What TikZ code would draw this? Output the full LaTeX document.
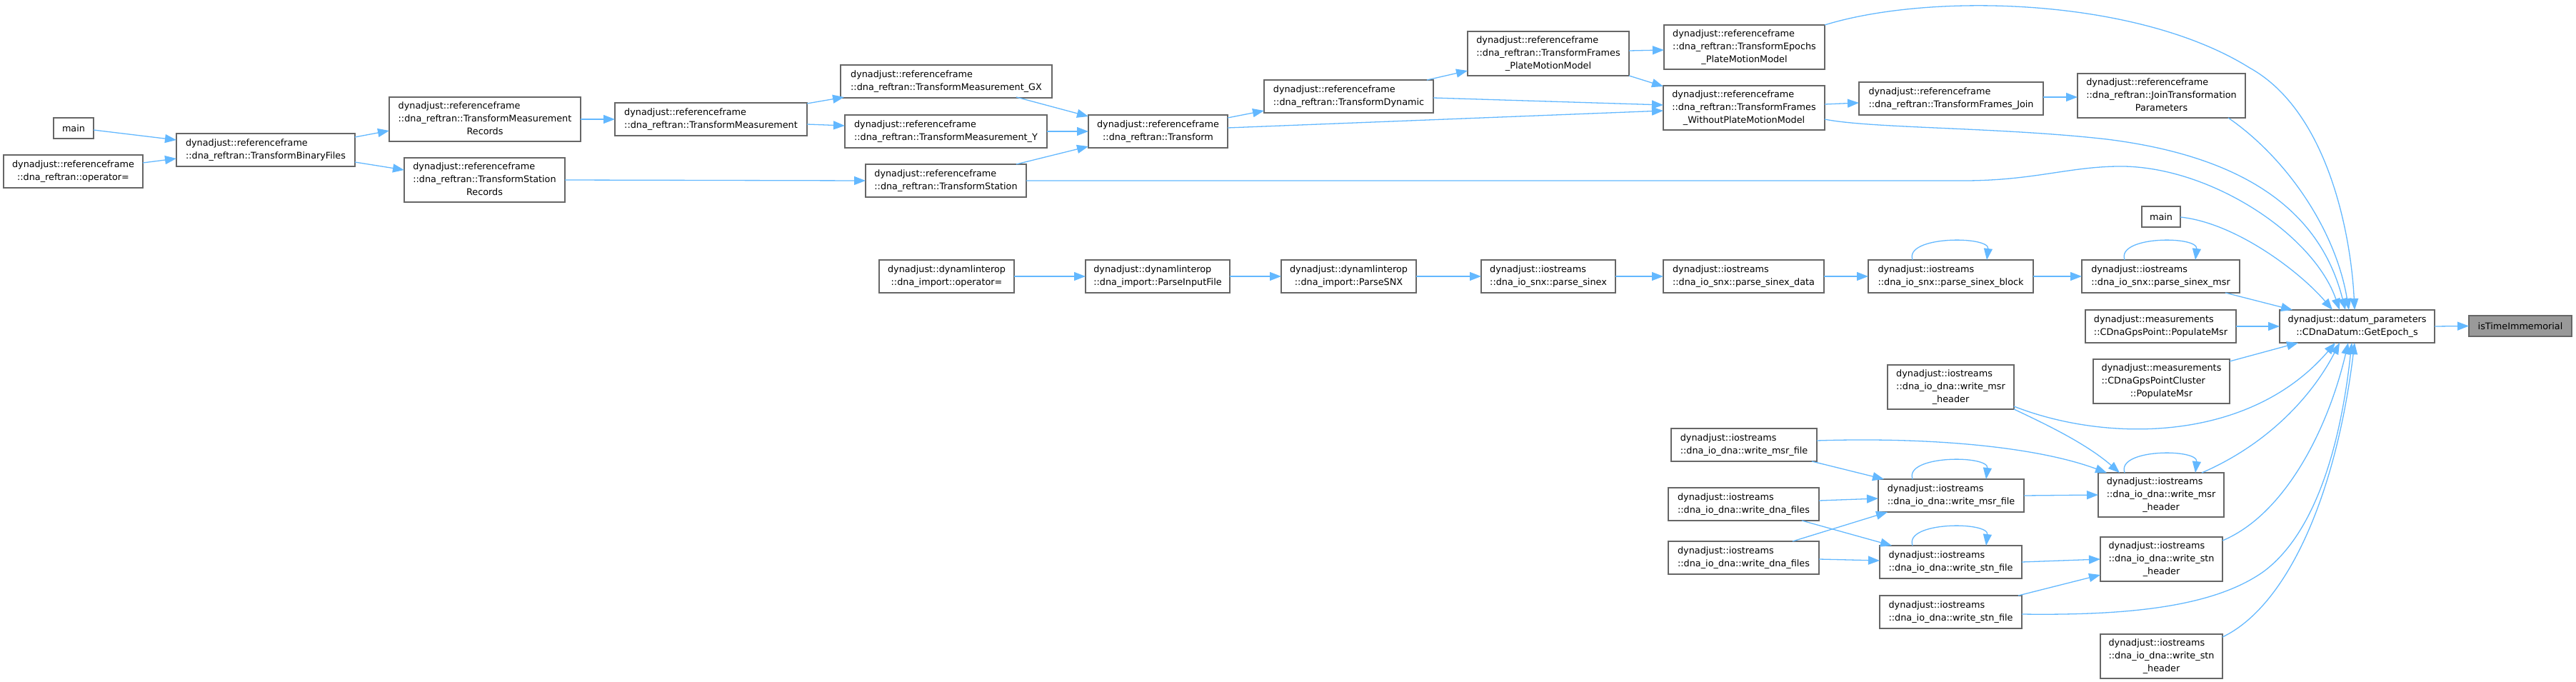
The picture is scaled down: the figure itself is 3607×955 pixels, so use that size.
\documentclass[tikz,border=0pt]{standalone}
\usepackage{fontspec}
\setmainfont{DejaVu Sans}
\usetikzlibrary{arrows.meta,calc}
\definecolor{edgeblue}{HTML}{63B8FF}
\definecolor{boxgray}{HTML}{666666}
\definecolor{rootfill}{HTML}{999999}
\newcommand{\LabTwo}[2]{\begin{tabular}{@{}l@{}}#1\\\multicolumn{1}{@{}c@{}}{#2}\end{tabular}}
\newcommand{\LabThree}[3]{\begin{tabular}{@{}l@{}}#1\\#2\\\multicolumn{1}{@{}c@{}}{#3}\end{tabular}}
\begin{document}
\begin{tikzpicture}[x=1pt,y=-1pt,
  box/.style={draw=boxgray, line width=1.6pt, fill=white, inner sep=0pt, outer sep=0pt,
    anchor=north west, align=center, font=\fontsize{12.8}{17.7}\selectfont},
  rootbox/.style={box, fill=rootfill},
  wh/.style 2 args={minimum width=#1pt, minimum height=#2pt},
  edge/.style={draw=edgeblue, line width=1.3pt, -{Triangle[length=16pt,width=12pt]}}]
\useasboundingbox (0,0) rectangle (3607,955);

% nodes
\node[box, wh={56}{29}] (main1) at (75,165) {main};
\node[box, wh={195}{46}] (opref) at (5,217) {\LabTwo{dynadjust::referenceframe}{::dna\_reftran::operator=}};
\node[box, wh={250}{46}] (TBF) at (247,187) {\LabTwo{dynadjust::referenceframe}{::dna\_reftran::TransformBinaryFiles}};
\node[box, wh={268}{62}] (TMR) at (545,136) {\LabThree{dynadjust::referenceframe}{::dna\_reftran::TransformMeasurement}{Records}};
\node[box, wh={225}{62}] (TSR) at (566,221) {\LabThree{dynadjust::referenceframe}{::dna\_reftran::TransformStation}{Records}};
\node[box, wh={269}{46}] (TM) at (861,144) {\LabTwo{dynadjust::referenceframe}{::dna\_reftran::TransformMeasurement}};
\node[box, wh={296}{46}] (TMGX) at (1177,91) {\LabTwo{dynadjust::referenceframe}{::dna\_reftran::TransformMeasurement\_GX}};
\node[box, wh={283}{46}] (TMY) at (1183,161) {\LabTwo{dynadjust::referenceframe}{::dna\_reftran::TransformMeasurement\_Y}};
\node[box, wh={225}{46}] (TS) at (1212,230) {\LabTwo{dynadjust::referenceframe}{::dna\_reftran::TransformStation}};
\node[box, wh={195}{46}] (Tr) at (1524,161) {\LabTwo{dynadjust::referenceframe}{::dna\_reftran::Transform}};
\node[box, wh={237}{46}] (TD) at (1770,112) {\LabTwo{dynadjust::referenceframe}{::dna\_reftran::TransformDynamic}};
\node[box, wh={226}{62}] (TFPMM) at (2055,44) {\LabThree{dynadjust::referenceframe}{::dna\_reftran::TransformFrames}{\_PlateMotionModel}};
\node[box, wh={225}{62}] (TEPMM) at (2330,35) {\LabThree{dynadjust::referenceframe}{::dna\_reftran::TransformEpochs}{\_PlateMotionModel}};
\node[box, wh={226}{62}] (TFWPMM) at (2329,120) {\LabThree{dynadjust::referenceframe}{::dna\_reftran::TransformFrames}{\_WithoutPlateMotionModel}};
\node[box, wh={258}{46}] (TFJ) at (2603,115) {\LabTwo{dynadjust::referenceframe}{::dna\_reftran::TransformFrames\_Join}};
\node[box, wh={235}{62}] (JTP) at (2909,103) {\LabThree{dynadjust::referenceframe}{::dna\_reftran::JoinTransformation}{Parameters}};
\node[box, wh={54}{29}] (main2) at (2999,289) {main};
\node[box, wh={189}{46}] (dopr) at (1231,364) {\LabTwo{dynadjust::dynamlinterop}{::dna\_import::operator=}};
\node[box, wh={202}{46}] (PIF) at (1520,364) {\LabTwo{dynadjust::dynamlinterop}{::dna\_import::ParseInputFile}};
\node[box, wh={189}{46}] (PSNX) at (1794,364) {\LabTwo{dynadjust::dynamlinterop}{::dna\_import::ParseSNX}};
\node[box, wh={188}{46}] (psinex) at (2074,364) {\LabTwo{dynadjust::iostreams}{::dna\_io\_snx::parse\_sinex}};
\node[box, wh={225}{46}] (psdata) at (2329,364) {\LabTwo{dynadjust::iostreams}{::dna\_io\_snx::parse\_sinex\_data}};
\node[box, wh={231}{46}] (psblock) at (2616,364) {\LabTwo{dynadjust::iostreams}{::dna\_io\_snx::parse\_sinex\_block}};
\node[box, wh={221}{46}] (psmsr) at (2915,364) {\LabTwo{dynadjust::iostreams}{::dna\_io\_snx::parse\_sinex\_msr}};
\node[box, wh={211}{46}] (GPM) at (2920,434) {\LabTwo{dynadjust::measurements}{::CDnaGpsPoint::PopulateMsr}};
\node[box, wh={217}{46}] (GE) at (3192,434) {\LabTwo{dynadjust::datum\_parameters}{::CDnaDatum::GetEpoch\_s}};
\node[rootbox, wh={144}{29}] (isTI) at (3457,442) {isTimeImmemorial};
\node[box, wh={191}{62}] (GPCM) at (2931,503) {\LabThree{dynadjust::measurements}{::CDnaGpsPointCluster}{::PopulateMsr}};
\node[box, wh={177}{62}] (wmh1) at (2643,511) {\LabThree{dynadjust::iostreams}{::dna\_io\_dna::write\_msr}{\_header}};
\node[box, wh={204}{46}] (wmfL) at (2340,600) {\LabTwo{dynadjust::iostreams}{::dna\_io\_dna::write\_msr\_file}};
\node[box, wh={204}{46}] (wmf) at (2630,671) {\LabTwo{dynadjust::iostreams}{::dna\_io\_dna::write\_msr\_file}};
\node[box, wh={176}{62}] (wmh2) at (2938,662) {\LabThree{dynadjust::iostreams}{::dna\_io\_dna::write\_msr}{\_header}};
\node[box, wh={211}{46}] (wdf1) at (2336,683) {\LabTwo{dynadjust::iostreams}{::dna\_io\_dna::write\_dna\_files}};
\node[box, wh={211}{46}] (wdf2) at (2336,758) {\LabTwo{dynadjust::iostreams}{::dna\_io\_dna::write\_dna\_files}};
\node[box, wh={199}{46}] (wsf) at (2632,764) {\LabTwo{dynadjust::iostreams}{::dna\_io\_dna::write\_stn\_file}};
\node[box, wh={171}{62}] (wsh1) at (2941,752) {\LabThree{dynadjust::iostreams}{::dna\_io\_dna::write\_stn}{\_header}};
\node[box, wh={199}{46}] (wsf2) at (2632,834) {\LabTwo{dynadjust::iostreams}{::dna\_io\_dna::write\_stn\_file}};
\node[box, wh={171}{62}] (wsh2) at (2941,888) {\LabThree{dynadjust::iostreams}{::dna\_io\_dna::write\_stn}{\_header}};

% left part edges
\draw[edge] ($(main1.north west)+(56,17)$) -- ($(TBF.north west)+(0,9)$);
\draw[edge] ($(opref.north west)+(195,11)$) -- ($(TBF.north west)+(0,35)$);
\draw[edge] ($(TBF.north west)+(250,5)$) -- ($(TMR.north west)+(0,47)$);
\draw[edge] ($(TBF.north west)+(250,40)$) -- ($(TSR.north west)+(0,17)$);
\draw[edge] (TMR.east) -- (TM.west);
\draw[edge] (TSR.east) -- (TS.west);
\draw[edge] ($(TM.north west)+(269,1)$) -- ($(TMGX.north west)+(5,45)$);
\draw[edge] ($(TM.north west)+(269,30)$) -- ($(TMY.north west)+(0,15)$);
\draw[edge] ($(TMGX.north west)+(246,45)$) -- ($(Tr.north west)+(0,2)$);
\draw[edge] (TMY.east) -- (Tr.west);
\draw[edge] ($(TS.north west)+(211,0)$) -- ($(Tr.north west)+(0,44)$);
\draw[edge] ($(Tr.north west)+(195,4)$) -- ($(TD.north west)+(0,43)$);
\draw[edge] ($(Tr.north west)+(195,18)$) -- ($(TFWPMM.north west)+(0,35)$);
\draw[edge] ($(TD.north west)+(228,0)$) -- ($(TFPMM.north west)+(0,55)$);
\draw[edge] ($(TD.north west)+(237,25)$) -- ($(TFWPMM.north west)+(0,27)$);
\draw[edge] ($(TFPMM.north west)+(226,27)$) -- ($(TEPMM.north west)+(0,35)$);
\draw[edge] ($(TFPMM.north west)+(226,62)$) -- ($(TFWPMM.north west)+(0,1)$);
\draw[edge] ($(TFWPMM.north west)+(226,26)$) -- ($(TFJ.north west)+(0,29)$);
\draw[edge] ($(TFJ.north west)+(258,21)$) -- ($(JTP.north west)+(0,33)$);

% curves into GetEpoch from above
\draw[edge] (TEPMM.north east) .. controls (2700,-10) and (2990,-5) .. (3150,95)
  .. controls (3260,156) and (3292,330) .. ($(GE.north west)+(105,0)$);
\draw[edge] ($(TFWPMM.north west)+(226,47)$) .. controls (2620,180) and (2800,178) .. (2950,195)
  .. controls (3150,220) and (3250,300) .. ($(GE.north west)+(92,0)$);
\draw[edge] (TS.east) -- (2750,253) .. controls (2850,253) and (2900,232) .. (2975,233)
  .. controls (3100,236) and (3240,330) .. ($(GE.north west)+(84,0)$);
\draw[edge] ($(JTP.north west)+(211,62)$) .. controls (3200,220) and (3270,320) .. ($(GE.north west)+(97,0)$);
\draw[edge] ($(main2.north west)+(54,15)$) .. controls (3130,312) and (3220,380) .. ($(GE.north west)+(74,0)$);

% sinex chain
\draw[edge] (dopr.east) -- (PIF.west);
\draw[edge] (PIF.east) -- (PSNX.west);
\draw[edge] (PSNX.east) -- (psinex.west);
\draw[edge] (psinex.east) -- (psdata.west);
\draw[edge] (psdata.east) -- (psblock.west);
\draw[edge] (psblock.east) -- (psmsr.west);
\draw[edge] ($(psmsr.north west)+(201,46)$) -- ($(GE.north west)+(18,0)$);
\draw[edge] (GPM.east) -- (GE.west);
\draw[edge] ($(GPCM.north west)+(191,3)$) -- ($(GE.north west)+(26,46)$);
\draw[edge] (GE.east) -- (isTI.west);

% self loops
\draw[edge] ($(psblock.north west)+(62,0)$) .. controls ($(psblock.north west)+(50,-34)$) and ($(psblock.north west)+(170,-34)$) .. ($(psblock.north west)+(166,0)$);
\draw[edge] ($(psmsr.north west)+(60,0)$) .. controls ($(psmsr.north west)+(48,-34)$) and ($(psmsr.north west)+(163,-34)$) .. ($(psmsr.north west)+(159,0)$);
\draw[edge] ($(wmf.north west)+(48,0)$) .. controls ($(wmf.north west)+(36,-34)$) and ($(wmf.north west)+(155,-34)$) .. ($(wmf.north west)+(151,0)$);
\draw[edge] ($(wmh2.north west)+(37,0)$) .. controls ($(wmh2.north west)+(25,-34)$) and ($(wmh2.north west)+(140,-34)$) .. ($(wmh2.north west)+(136,0)$);
\draw[edge] ($(wsf.north west)+(46,0)$) .. controls ($(wsf.north west)+(34,-34)$) and ($(wsf.north west)+(153,-34)$) .. ($(wsf.north west)+(149,0)$);

% lower part
\draw[edge] ($(wmh1.north west)+(177,58)$) .. controls (2950,620) and (3150,620) .. ($(GE.north west)+(78,46)$);
\draw[edge] ($(wmh1.north west)+(177,62)$) .. controls (2860,592) and (2920,620) .. ($(wmh2.north west)+(30,0)$);
\draw[edge] ($(wmfL.north west)+(204,17)$) .. controls (2700,612) and (2850,625) .. ($(wmh2.north west)+(12,0)$);
\draw[edge] ($(wmfL.north west)+(197,46)$) -- ($(wmf.north west)+(8,0)$);
\draw[edge] ($(wdf1.north west)+(211,18)$) -- ($(wmf.north west)+(0,27)$);
\draw[edge] ($(wdf1.north west)+(187,46)$) -- ($(wsf.north west)+(17,0)$);
\draw[edge] ($(wdf2.north west)+(174,0)$) -- ($(wmf.north west)+(13,46)$);
\draw[edge] ($(wdf2.north west)+(211,25)$) -- ($(wsf.north west)+(0,21)$);
\draw[edge] (wmf.east) -- (wmh2.west);
\draw[edge] ($(wmh2.north west)+(145,0)$) .. controls (3180,620) and (3240,550) .. ($(GE.north west)+(84,46)$);
\draw[edge] (wsf.east) -- (wsh1.west);
\draw[edge] ($(wsf2.north west)+(194,0)$) -- ($(wsh1.north west)+(0,53)$);
\draw[edge] ($(wsh1.north west)+(171,5)$) .. controls (3200,720) and (3260,600) .. ($(GE.north west)+(96,46)$);
\draw[edge] ($(wsf2.north west)+(199,26)$) .. controls (2980,862) and (3100,850) .. (3170,800)
  .. controls (3250,740) and (3280,600) .. ($(GE.north west)+(101,46)$);
\draw[edge] ($(wsh2.north west)+(171,4)$) .. controls (3200,850) and (3270,700) .. ($(GE.north west)+(105,46)$);
\end{tikzpicture}
\end{document}
